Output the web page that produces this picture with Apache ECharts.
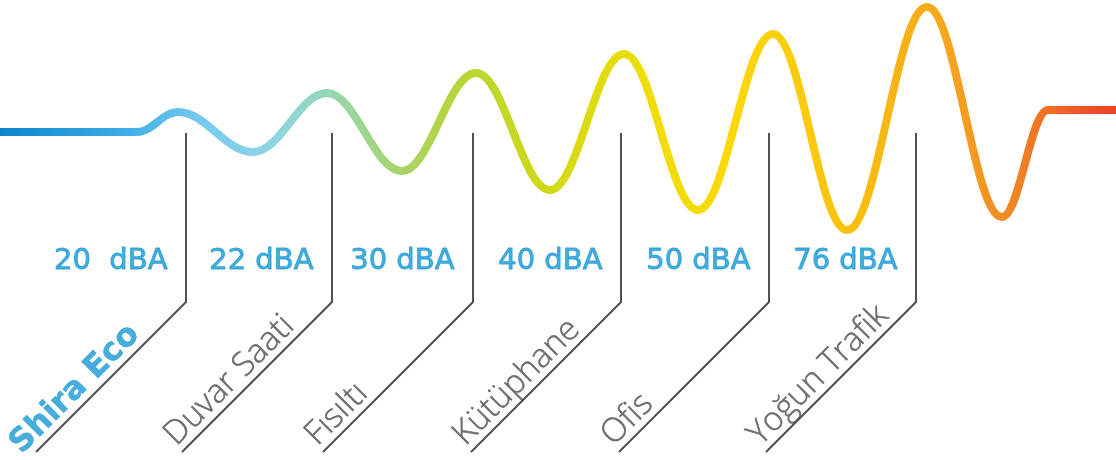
<!DOCTYPE html>
<html><head><meta charset="utf-8">
<script src="https://cdn.jsdelivr.net/npm/echarts@6/dist/echarts.min.js"></script>
<style>html,body{margin:0;padding:0;background:#fff}#c{width:1116px;height:460px}</style>
</head><body><div id="c"></div>
<script>
// ---- data ----
const categories = ['Shira Eco', 'Duvar Saati', 'Fısıltı', 'Kütüphane', 'Ofis', 'Yoğun Trafik'];
const dbaValues = [20, 22, 30, 40, 50, 76];
const dbaLabels = ['20  dBA', '22 dBA', '30 dBA', '40 dBA', '50 dBA', '76 dBA'];
// sound wave turning points: horizontal position and level above the rest line
const waveX = [0, 137, 178, 253, 327, 402, 476, 550, 624, 698, 773, 847, 927, 1002, 1048, 1116];
const waveLevel = [0, 0, 20, -20, 39, -39, 59, -58, 78, -78, 98, -98, 125, -85, 22, 22];

// ---- layout (axis units) ----
const leaderX = [186, 332, 473, 621, 769, 916];
const leaderTop = -1, leaderKnee = -170, leaderEnd = -320, leaderRun = 150;
const labelLevel = -130, labelGap = 18;

const chart = echarts.init(document.getElementById('c'), null, {renderer: 'canvas'});

const waveData = waveX.map((x, i) => [x, waveLevel[i]]);

const leaderSeries = leaderX.map((x) => ({
  type: 'line',
  data: [[x, leaderTop], [x, leaderKnee], [x - leaderRun, leaderEnd]],
  symbol: 'none',
  silent: true,
  lineStyle: {color: '#4f5052', width: 2, join: 'miter'},
  z: 2
}));

const blue = '#1898d5';
const grey = '#4f5052';

const option = {
  animation: false,
  backgroundColor: '#ffffff',
  grid: {left: 0, right: 0, top: 0, bottom: 0},
  xAxis: {type: 'value', min: 0, max: 1116, show: false},
  yAxis: {type: 'value', min: -328, max: 132, show: false},
  series: [
    ...leaderSeries,
    {
      type: 'line',
      data: waveData,
      smooth: 0.38,
      smoothMonotone: 'x',
      symbol: 'none',
      z: 5,
      lineStyle: {
        width: 8,
        cap: 'round',
        color: new echarts.graphic.LinearGradient(0, 0, 1, 0, [
          {offset: 0.00, color: '#0a84cc'},
          {offset: 0.12, color: '#3fb0e6'},
          {offset: 0.18, color: '#76c9ee'},
          {offset: 0.24, color: '#8ed4e6'},
          {offset: 0.29, color: '#93d7bb'},
          {offset: 0.36, color: '#a8d46a'},
          {offset: 0.42, color: '#b8d630'},
          {offset: 0.50, color: '#d4da16'},
          {offset: 0.58, color: '#efde05'},
          {offset: 0.66, color: '#fbd806'},
          {offset: 0.76, color: '#f9c10e'},
          {offset: 0.84, color: '#f6a81c'},
          {offset: 0.90, color: '#f28a24'},
          {offset: 0.95, color: '#ee6325'},
          {offset: 1.00, color: '#e94024'}
        ])
      }
    },
    {
      type: 'scatter',
      symbolSize: 1,
      itemStyle: {color: 'rgba(0,0,0,0)'},
      silent: true,
      data: leaderX.map((x, i) => ({value: [x - labelGap, labelLevel], name: dbaLabels[i]})),
      label: {
        show: true,
        position: [0, 0],
        align: 'right',
        verticalAlign: 'middle',
        formatter: (p) => p.name,
        fontFamily: 'DejaVu Sans',
        fontSize: 29,
        color: blue,
        textBorderColor: blue,
        textBorderWidth: 0.9
      },
      z: 6
    },
    {
      type: 'scatter',
      symbolSize: 1,
      itemStyle: {color: 'rgba(0,0,0,0)'},
      silent: true,
      data: leaderX.map((x, i) => ({
        value: [x - leaderRun, leaderEnd],
        name: categories[i],
        label: i === 0
          ? {fontWeight: 'bold', color: blue, textBorderColor: blue, textBorderWidth: 0.5,
             fontFamily: 'DejaVu Sans', fontSize: 32, offset: [-12, 0]}
          : {}
      })),
      label: {
        show: true,
        position: [0, 0],
        rotate: 45,
        align: 'left',
        verticalAlign: 'bottom',
        formatter: (p) => p.name,
        fontFamily: 'Open Sans',
        fontWeight: 300,
        fontSize: 33,
        color: grey,
        textBorderColor: grey,
        textBorderWidth: 0.5
      },
      z: 6
    }
  ]
};
chart.setOption(option);
</script>
</body></html>
